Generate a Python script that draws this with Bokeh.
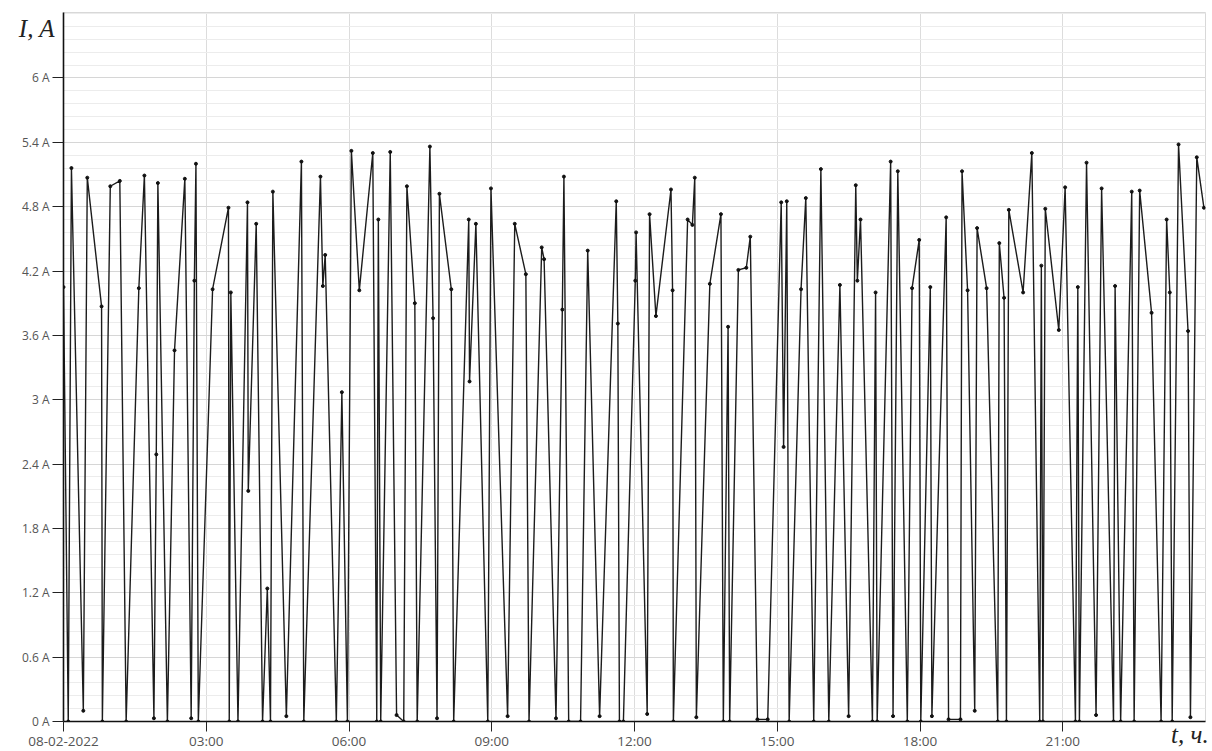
from bokeh.plotting import figure
from bokeh.models import FixedTicker, Range1d
from bokeh.embed import file_html
from bokeh.resources import INLINE

# time of day (08-02-2022) and current, A
times = ["00:00", "00:06", "00:10", "00:25", "00:30", "00:48", "00:49", "00:59", "01:11", "01:19",
         "01:35", "01:42", "01:54", "01:57", "01:59", "02:11", "02:20", "02:33", "02:41", "02:45",
         "02:47", "02:50", "03:08", "03:28", "03:29", "03:31", "03:40", "03:52", "03:53", "04:03",
         "04:11", "04:17", "04:21", "04:24", "04:41", "05:00", "05:03", "05:24", "05:27", "05:30",
         "05:44", "05:51", "05:58", "06:03", "06:13", "06:30", "06:35", "06:37", "06:40", "06:52",
         "07:00", "07:09", "07:13", "07:23", "07:26", "07:42", "07:46", "07:51", "07:54", "08:09",
         "08:12", "08:31", "08:32", "08:40", "08:55", "08:59", "09:20", "09:29", "09:43", "09:47",
         "10:03", "10:06", "10:21", "10:29", "10:31", "10:37", "10:52", "11:01", "11:16", "11:37",
         "11:39", "11:41", "11:46", "12:01", "12:02", "12:16", "12:19", "12:27", "12:46", "12:48",
         "12:49", "13:07", "13:13", "13:16", "13:18", "13:35", "13:49", "13:52", "13:58", "14:00",
         "14:11", "14:21", "14:26", "14:35", "14:48", "15:05", "15:08", "15:12", "15:15", "15:30",
         "15:36", "15:46", "15:55", "16:05", "16:19", "16:30", "16:39", "16:41", "16:45", "17:00",
         "17:04", "17:06", "17:23", "17:26", "17:32", "17:44", "17:50", "17:59", "18:01", "18:13",
         "18:15", "18:33", "18:36", "18:51", "18:53", "19:00", "19:09", "19:12", "19:24", "19:38",
         "19:40", "19:46", "19:49", "19:52", "20:10", "20:21", "20:31", "20:33", "20:35", "20:38",
         "20:55", "21:03", "21:16", "21:19", "21:21", "21:30", "21:42", "21:49", "22:04", "22:06",
         "22:13", "22:27", "22:30", "22:37", "22:52", "23:04", "23:11", "23:15", "23:18", "23:26",
         "23:38", "23:41", "23:49", "23:58"]
current = [4.05, 0.0, 5.16, 0.10, 5.07, 3.87, 0.0, 4.99, 5.04, 0.0,
           4.04, 5.09, 0.03, 2.49, 5.02, 0.0, 3.46, 5.06, 0.03, 4.11,
           5.20, 0.0, 4.03, 4.79, 0.0, 4.00, 0.0, 4.84, 2.15, 4.64,
           0.0, 1.24, 0.0, 4.94, 0.05, 5.22, 0.0, 5.08, 4.06, 4.35,
           0.0, 3.07, 0.0, 5.32, 4.02, 5.30, 0.0, 4.68, 0.0, 5.31,
           0.06, 0.0, 4.99, 3.90, 0.0, 5.36, 3.76, 0.03, 4.92, 4.03,
           0.0, 4.68, 3.17, 4.64, 0.0, 4.97, 0.05, 4.64, 4.17, 0.0,
           4.42, 4.31, 0.03, 3.84, 5.08, 0.0, 0.0, 4.39, 0.05, 4.85,
           3.71, 0.0, 0.0, 4.11, 4.56, 0.07, 4.73, 3.78, 4.96, 4.02,
           0.0, 4.68, 4.63, 5.07, 0.04, 4.08, 4.73, 0.0, 3.68, 0.0,
           4.21, 4.23, 4.52, 0.02, 0.02, 4.84, 2.56, 4.85, 0.0, 4.03,
           4.88, 0.0, 5.15, 0.0, 4.07, 0.05, 5.00, 4.11, 4.68, 0.0,
           4.00, 0.0, 5.22, 0.05, 5.13, 0.0, 4.04, 4.49, 0.0, 4.05,
           0.05, 4.70, 0.02, 0.02, 5.13, 4.02, 0.10, 4.60, 4.04, 0.0,
           4.46, 3.95, 0.0, 4.77, 4.00, 5.30, 0.0, 4.25, 0.0, 4.78,
           3.65, 4.98, 0.0, 4.05, 0.0, 5.21, 0.06, 4.97, 0.0, 4.06,
           0.0, 4.94, 0.0, 4.95, 3.81, 0.0, 4.68, 4.00, 0.0, 5.38,
           3.64, 0.04, 5.26, 4.79]

x_ticks = [0, 3, 6, 9, 12, 15, 18, 21]
x_labels = ["08-02-2022", "03:00", "06:00", "09:00", "12:00", "15:00", "18:00", "21:00"]
y_ticks = [0, 0.6, 1.2, 1.8, 2.4, 3, 3.6, 4.2, 4.8, 5.4, 6]
y_labels = ["0 A", "0.6 A", "1.2 A", "1.8 A", "2.4 A", "3 A", "3.6 A", "4.2 A", "4.8 A", "5.4 A", "6 A"]

hours = [int(t[:2]) + int(t[3:]) / 60 for t in times]

W, H = 1208, 751
p = figure(width=W, height=H, output_backend="svg", toolbar_location=None,
           x_range=Range1d(0, 24), y_range=Range1d(0, 6.61),
           min_border_left=63, min_border_right=3, min_border_top=12, min_border_bottom=30)
p.background_fill_color = "white"
p.border_fill_color = "white"
p.outline_line_color = "#d8d8d8"

p.xaxis.ticker = FixedTicker(ticks=x_ticks)
p.xaxis.major_label_overrides = {k: v for k, v in zip(x_ticks, x_labels)}
p.yaxis.ticker = FixedTicker(ticks=y_ticks,
                             minor_ticks=[round(i * 0.12, 2) for i in range(56)])
p.yaxis.major_label_overrides = {k: v for k, v in zip(y_ticks, y_labels)}

for ax in (p.xaxis[0], p.yaxis[0]):
    ax.axis_line_color = "#111111"
    ax.axis_line_width = 1.6
    ax.major_tick_line_color = "#222222"
    ax.major_tick_line_width = 1
    ax.minor_tick_line_color = None
    ax.major_label_text_font = "Open Sans"
    ax.major_label_text_color = "#555555"
    ax.axis_label_text_font = "Liberation Serif"
    ax.axis_label_text_font_style = "italic"
    ax.axis_label_text_font_size = "25px"
    ax.axis_label_text_color = "#222222"
p.yaxis.major_label_text_font_size = "12px"
p.xaxis.major_label_text_font_size = "13.5px"
p.yaxis.major_tick_out = 11
p.yaxis.major_tick_in = 0
p.yaxis.major_label_standoff = 3
p.xaxis.major_tick_out = 10
p.xaxis.major_tick_in = 0
p.xaxis.major_label_standoff = 0

p.yaxis.axis_label = "\nI, A"
p.yaxis.axis_label_orientation = "horizontal"
p.yaxis.axis_label_align = "end"
p.yaxis.axis_label_standoff = -36
p.xaxis.axis_label = "t, ч.\u00a0\u00a0\u00a0\u00a0\u00a0"
p.xaxis.axis_label_align = "end"
p.xaxis.axis_label_standoff = -32

p.xgrid.ticker = FixedTicker(ticks=x_ticks + [24])
p.xgrid.grid_line_color = "#dcdcdc"
p.xgrid.grid_line_width = 1
p.ygrid.grid_line_color = "#d6d6d6"
p.ygrid.grid_line_width = 1
p.ygrid.minor_grid_line_color = "#ececec"
p.ygrid.minor_grid_line_width = 1

p.line(hours, current, line_color="#1c1c1c", line_width=1.4)
p.scatter(hours, current, size=3, fill_color="#111111", line_color="#111111")

open("out.html", "w").write(file_html(p, INLINE))
